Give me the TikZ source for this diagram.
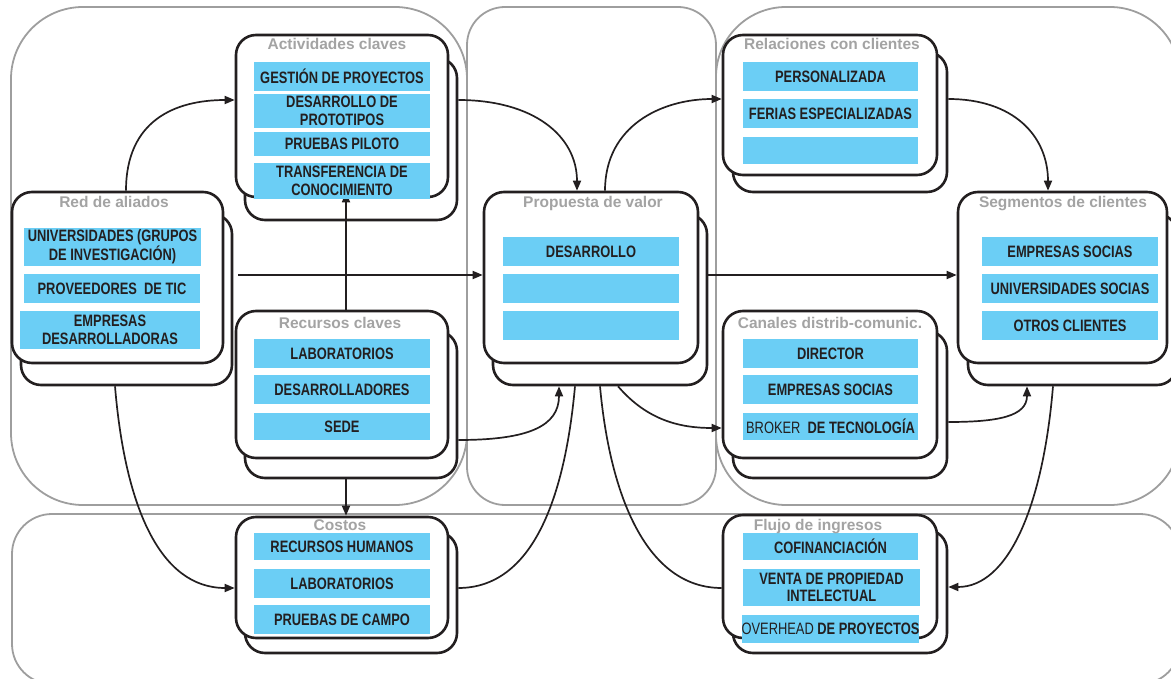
\documentclass[tikz,border=0pt]{standalone}
\usepackage{fontspec}
\setmainfont{Liberation Sans}
\newfontfamily\narrowf[FakeStretch=0.78]{Liberation Sans}
\usetikzlibrary{arrows.meta,calc}
\definecolor{barblue}{HTML}{6BCEF5}
\definecolor{ink}{HTML}{231F20}
\definecolor{panelgray}{HTML}{9E9E9E}
\definecolor{titlegray}{HTML}{A3A3A3}
\tikzset{
  panel/.style={draw=panelgray, line width=1.8pt},
  cardbox/.style={draw=ink, fill=white, line width=2.6pt, rounded corners=20pt, inner sep=0pt},
  blubar/.style={fill=barblue, inner sep=0pt, text=ink, align=center,
     font=\narrowf\bfseries\fontsize{16.5}{17.5}\selectfont},
  ttl/.style={text=titlegray, inner sep=0pt, anchor=base,
     font=\bfseries\fontsize{15.5}{17}\selectfont},
  conn/.style={draw=ink, line width=1.7pt},
  arr/.style={conn, -{Triangle[length=10pt,width=8pt]}}
}
% card: name, x1, y1, x2, y2, back dx, back dy
\newcommand\card[7]{%
  \node[cardbox, minimum width={(#4-#2)*1pt}, minimum height={(#5-#3)*1pt}]
     (#1b) at ({(#2+#4)/2+#6},{(#3+#5)/2+#7}) {};
  \node[cardbox, minimum width={(#4-#2)*1pt}, minimum height={(#5-#3)*1pt}]
     (#1) at ({(#2+#4)/2},{(#3+#5)/2}) {};}
% bar: name, x1, x2, y1, y2, text
\newcommand\bb[6]{%
  \node[blubar, minimum width={(#3-#2)*1pt}, minimum height={(#5-#4)*1pt}]
     (#1) at ({(#2+#3)/2},{(#4+#5)/2}) {#6};}
\begin{document}
\begin{tikzpicture}[x=1pt,y=-1pt]
\useasboundingbox (0,0) rectangle (1171,679);
% background panels
\draw[panel, rounded corners=72pt] (11,7) rectangle (467,505);
\draw[panel, rounded corners=38pt] (467,7) rectangle (716,505);
\draw[panel, rounded corners=70pt] (716,7) rectangle (1180,505);
\draw[panel, rounded corners=40pt] (12,514) rectangle (1180,684);
% cards
\card{act}{236}{35}{448}{197}{9}{23}
\card{ral}{12}{192}{223}{363}{9}{22}
\card{rec}{236}{311}{448}{458}{9}{20}
\card{pro}{484}{192}{698}{363}{9}{22}
\card{rel}{723}{35}{937}{175}{10}{17}
\card{seg}{958}{192}{1167}{363}{10}{22}
\card{can}{723}{311}{937}{458}{10}{20}
\card{cos}{236}{517}{448}{638}{9}{15}
\card{flu}{723}{515}{937}{638}{10}{15}
% connectors
\draw[arr] ($(ral.north)+(8.5,0)$) .. controls +(0,-70) and +(-60,0) .. ($(act.west)+(0,-16)$);
\draw[arr] ($(actb.east)+(0,-39)$) .. controls +(75,0) and +(0,-55) .. ($(pro.north)+(-14,0)$);
\draw[arr] ($(pro.north)+(14,0)$) .. controls +(0,-65) and +(-60,0) .. ($(rel.west)+(0,-6)$);
\draw[arr] ($(relb.east)+(0,-23)$) .. controls +(65,0) and +(0,-55) .. ($(seg.north)+(-14.5,0)$);
\draw[arr] ($(ralb.east)+(5,-24.5)$) -- ($(pro.west)+(0,-2.5)$);
\draw[arr] ($(prob.east)+(0,-24.5)$) -- ($(seg.west)+(0,-2.5)$);
\draw[arr] ($(rec.north)+(4,0)$) -- ($(act.south)+(4,-6)$);
\draw[arr] ($(recb.south)+(-5,0)$) -- ($(cos.north)+(4,0)$);
\draw[arr] ($(recb.east)+(0,35.5)$) .. controls +(70,0) and +(0,40) .. ($(prob.south)+(-41,0)$);
\draw[arr] ($(ralb.south)+(-11.5,0)$) .. controls +(10,120) and +(-75,0) .. ($(cos.west)+(0,10.5)$);
\draw[conn] ($(prob.south)+(-25,0)$) .. controls +(-10,110) and +(75,0) .. ($(cosb.east)+(0,-4.5)$);
\draw[conn] ($(prob.south)+(0,0)$) .. controls +(10,110) and +(-75,0) .. ($(flu.west)+(0,11.5)$);
\draw[arr] ($(prob.south)+(18,0)$) .. controls +(30,35) and +(-40,0) .. ($(can.west)+(0,43.5)$);
\draw[arr] ($(canb.east)+(0,17.5)$) .. controls +(50,0) and +(0,30) .. ($(segb.south)+(-45.5,0)$);
\draw[arr] ($(segb.south)+(-19.5,0)$) .. controls +(-10,120) and +(60,0) .. ($(flub.east)+(0,-4.5)$);
% bars
\bb{a1}{254}{430}{62}{91}{GESTIÓN DE PROYECTOS}
\bb{a2}{254}{430}{94}{128}{DESARROLLO DE\\PROTOTIPOS}
\bb{a3}{254}{430}{132}{156}{PRUEBAS PILOTO}
\bb{a4}{254}{430}{163}{199}{TRANSFERENCIA DE\\CONOCIMIENTO}
\bb{r1}{24}{201}{228}{266}{UNIVERSIDADES (GRUPOS\\DE INVESTIGACIÓN)}
\bb{r2}{24}{200}{274}{303}{PROVEEDORES\ \ DE TIC}
\bb{r3}{20}{200}{311}{349}{EMPRESAS\\DESARROLLADORAS}
\bb{k1}{254}{430}{339}{368}{LABORATORIOS}
\bb{k2}{254}{430}{375}{404}{DESARROLLADORES}
\bb{k3}{254}{430}{413}{440}{SEDE}
\bb{p1}{503}{679}{237}{266}{DESARROLLO}
\bb{p2}{503}{679}{274}{303}{}
\bb{p3}{503}{679}{311}{340}{}
\bb{l1}{743}{918}{62}{91}{PERSONALIZADA}
\bb{l2}{743}{918}{99}{128}{FERIAS ESPECIALIZADAS}
\bb{l3}{743}{918}{137}{164}{}
\bb{s1}{982}{1158}{237}{266}{EMPRESAS SOCIAS}
\bb{s2}{982}{1158}{274}{303}{UNIVERSIDADES SOCIAS}
\bb{s3}{982}{1158}{311}{340}{OTROS CLIENTES}
\bb{c1}{743}{918}{339}{368}{DIRECTOR}
\bb{c2}{743}{918}{375}{404}{EMPRESAS SOCIAS}
\bb{c3}{743}{918}{413}{440}{{\mdseries BROKER}\ \ DE TECNOLOGÍA}
\bb{o1}{254}{430}{533}{560}{RECURSOS HUMANOS}
\bb{o2}{254}{430}{569}{598}{LABORATORIOS}
\bb{o3}{254}{430}{605}{634}{PRUEBAS DE CAMPO}
\bb{f1}{743}{918}{533}{560}{COFINANCIACIÓN}
\bb{f2}{743}{920}{569}{606}{VENTA DE\ PROPIEDAD\\INTELECTUAL}
\bb{f3}{743}{918}{615}{643}{{\mdseries OVERHEAD}\ DE PROYECTOS}
% titles
\node[ttl] (t1) at (337,50) {Actividades claves};
\node[ttl] (t2) at (114,208) {Red de aliados};
\node[ttl] (t3) at (340,328) {Recursos claves};
\node[ttl] (t4) at (593,208) {Propuesta de valor};
\node[ttl] (t5) at (832,50) {Relaciones con clientes};
\node[ttl] (t6) at (1063,208) {Segmentos de clientes};
\node[ttl] (t7) at (830,328) {Canales distrib-comunic.};
\node[ttl] (t8) at (340,530) {Costos};
\node[ttl] (t9) at (818,530) {Flujo de ingresos};
\end{tikzpicture}
\end{document}
